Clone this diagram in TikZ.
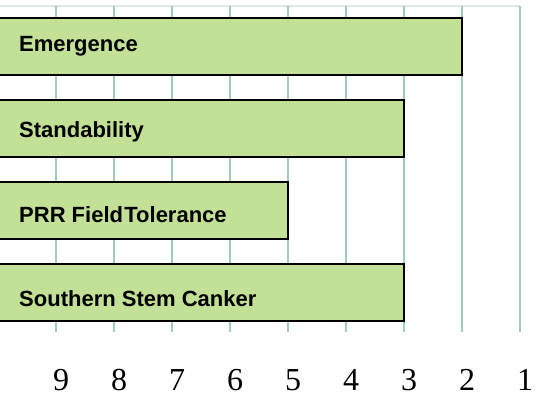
\documentclass[tikz,border=0pt]{standalone}
\usepackage{fontspec}
\setmainfont{Liberation Serif}
\newfontfamily\labelfont{Liberation Sans}
\newfontfamily\tickfont{Liberation Serif}
\usetikzlibrary{positioning}
\definecolor{barfill}{RGB}{194,224,150}
\definecolor{gridcol}{RGB}{160,205,185}
\definecolor{topcol}{RGB}{222,232,228}

\begin{document}
\begin{tikzpicture}[x=1pt,y=-1pt]
\tikzset{bar/.style = {draw=black,fill=barfill,line width=1.4pt}}
\tikzset{gridline/.style = {draw=gridcol,line width=1.3pt}}
\tikzset{barlabel/.style = {anchor=base west,inner sep=0pt,font=\labelfont\bfseries\fontsize{22}{24}\selectfont}}
\tikzset{tick/.style = {anchor=base,inner sep=0pt,font=\tickfont\fontsize{32}{34}\selectfont}}
\useasboundingbox (0,0) rectangle (539,402);
\clip (0,0) rectangle (539,402);
% grid
\draw[topcol,line width=1.3pt] (0,6) -- (520,6);
\draw[gridline] (56,6) -- (56,332);
\draw[gridline] (114,6) -- (114,332);
\draw[gridline] (172,6) -- (172,332);
\draw[gridline] (230,6) -- (230,332);
\draw[gridline] (288,6) -- (288,332);
\draw[gridline] (346,6) -- (346,332);
\draw[gridline] (404,6) -- (404,332);
\draw[gridline] (462,6) -- (462,332);
\draw[gridline] (520,6) -- (520,332);
% bars
\draw[bar] (-5,18) rectangle (462,75);
\draw[bar] (-5,100) rectangle (404,157);
\draw[bar] (-5,182) rectangle (288,239);
\draw[bar] (-5,264) rectangle (404,321);
% labels
\node[barlabel] (emergence) at (19,51) {Emergence};
\node[barlabel] (standability) at (19,137) {Standability};
\node[barlabel] (prr) at (19,222) {PRR Field\hspace{-.22em} Tolerance};
\node[barlabel] (canker) at (19,306) {Southern Stem Canker};
% axis
\node[tick] (n9) at (61,390) {9};
\node[tick] (n8) at (119,390) {8};
\node[tick] (n7) at (177,390) {7};
\node[tick] (n6) at (235,390) {6};
\node[tick] (n5) at (293,390) {5};
\node[tick] (n4) at (351,390) {4};
\node[tick] (n3) at (409,390) {3};
\node[tick] (n2) at (467,390) {2};
\node[tick] (n1) at (525,390) {1};
\end{tikzpicture}
\end{document}
